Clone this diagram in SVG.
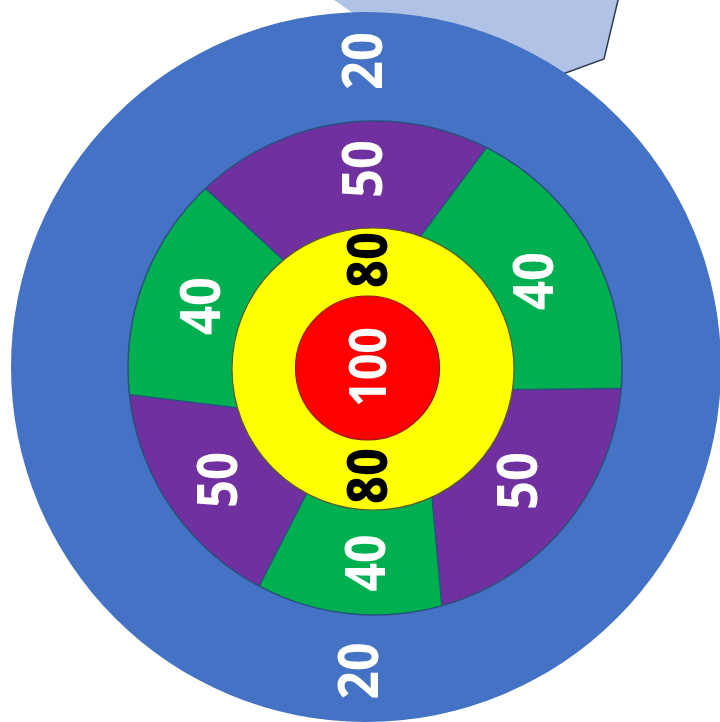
<svg xmlns="http://www.w3.org/2000/svg" width="720" height="722" viewBox="0 0 720 722">
  <style>
    .lbl { font-family: "Noto Sans", "Open Sans", "Liberation Sans", sans-serif; font-weight: 700; font-size: 55px; text-anchor: middle; }
    .w { fill: #ffffff; }
    .k { fill: #000000; }
    .edge { stroke: #2B4F7E; stroke-width: 1.5; }
  </style>
  <defs>
    <clipPath id="ringClip">
      <circle cx="375" cy="368" r="247"/>
    </clipPath>
  </defs>
  <rect x="0" y="0" width="720" height="722" fill="#ffffff"/>

  <g id="pointer">
    <polygon points="328,-4 400,45 540,82 604,59 619,-4" fill="#B0C3E6"/>
    <polyline points="619,-4 604,59 560,75" fill="none" stroke="#2F3A4E" stroke-width="1.5"/>
  </g>

  <g id="ring-20">
    <circle cx="366" cy="367" r="355" fill="#4472C4"/>
  </g>

  <g id="ring-sectors">
    <g clip-path="url(#ringClip)">
      <circle id="sectors-50" cx="375" cy="368" r="247" fill="#7030A0"/>
      <polygon id="sector-40-upper-left" class="edge" points="302,277 170,156 60,200 82,389 263,411" fill="#00B050"/>
      <polygon id="sector-40-upper-right" class="edge" points="405,257 513,112 680,110 683,388 480,390" fill="#00B050"/>
      <polygon id="sector-40-bottom" class="edge" points="430,474 447,662 232,639 317,473" fill="#00B050"/>
    </g>
    <circle cx="375" cy="368" r="247" fill="none" class="edge"/>
  </g>

  <g id="ring-80">
    <circle cx="373" cy="369" r="141" fill="#FFFF00" stroke="#5A5A2A" stroke-width="1.2"/>
  </g>

  <g id="bull-100">
    <circle cx="367.5" cy="368" r="72" fill="#FF0000" stroke="#8B1A1A" stroke-width="1.2"/>
  </g>

  <g id="labels">
    <text class="lbl w" transform="translate(362,61) rotate(-90)" y="20" textLength="58" lengthAdjust="spacingAndGlyphs">20</text>
    <text class="lbl w" transform="translate(362,169) rotate(-90)" y="20" textLength="58" lengthAdjust="spacingAndGlyphs">50</text>
    <text class="lbl k" style="font-weight:800" transform="translate(367,260) rotate(-90)" y="20" textLength="56" lengthAdjust="spacingAndGlyphs">80</text>
    <text class="lbl w" style="font-size:52px" transform="translate(368,367) rotate(-90)" y="18" textLength="80" lengthAdjust="spacingAndGlyphs">100</text>
    <text class="lbl k" style="font-weight:800" transform="translate(367,476) rotate(-90)" y="20" textLength="56" lengthAdjust="spacingAndGlyphs">80</text>
    <text class="lbl w" transform="translate(365,563) rotate(-90)" y="20" textLength="57" lengthAdjust="spacingAndGlyphs">40</text>
    <text class="lbl w" transform="translate(358,671) rotate(-90)" y="20" textLength="57" lengthAdjust="spacingAndGlyphs">20</text>
    <text class="lbl w" transform="translate(200,306) rotate(-90)" y="20" textLength="58" lengthAdjust="spacingAndGlyphs">40</text>
    <text class="lbl w" transform="translate(217,480) rotate(-90)" y="20" textLength="56" lengthAdjust="spacingAndGlyphs">50</text>
    <text class="lbl w" transform="translate(533,281) rotate(-90)" y="20" textLength="58" lengthAdjust="spacingAndGlyphs">40</text>
    <text class="lbl w" transform="translate(517,481) rotate(-90)" y="20" textLength="58" lengthAdjust="spacingAndGlyphs">50</text>
  </g>
</svg>
